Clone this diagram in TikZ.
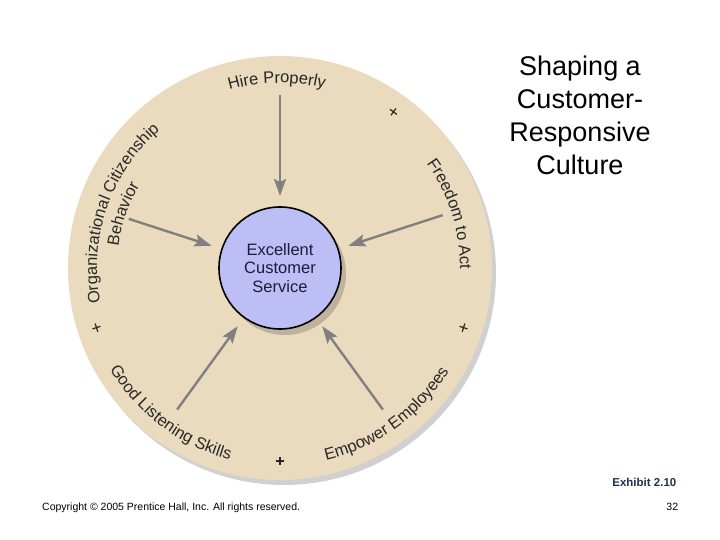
\documentclass[tikz,border=0pt]{standalone}
\usepackage{fontspec}
\setmainfont{Liberation Sans}
\usetikzlibrary{arrows.meta, shapes.misc, decorations.text}
\definecolor{disc}{RGB}{234,219,190}
\definecolor{discshadow}{RGB}{208,208,208}
\definecolor{core}{RGB}{190,190,246}
\definecolor{coreshadow}{RGB}{190,178,158}
\definecolor{arrowgray}{RGB}{128,128,128}
\definecolor{labeltext}{RGB}{40,40,40}
\definecolor{coretext}{RGB}{28,28,56}
\definecolor{exhibit}{RGB}{27,52,84}
\newcommand{\lblfont}{\fontsize{16.5}{16.5}\selectfont\color{labeltext}}

\begin{document}
\begin{tikzpicture}[x=1pt, y=1pt,
			flow/.style={draw=arrowgray, line width=2.4pt, -{Stealth[length=17pt, width=12pt, inset=3pt]}, shorten >=11pt},
			plusmark/.style={draw=black!85, cross out, minimum size=6pt, inner sep=0pt, outer sep=0pt, line width=1.2pt},
			arclabel/.style={decorate, decoration={text along path, text align=center, text={#1}}}]
			\useasboundingbox (0,0) rectangle (720,540);
			% Scheibe mit Schatten
			\coordinate (c) at (280,272);
			\fill[discshadow] (284,267) circle[radius=212];
			\fill[disc] (c) circle[radius=212];
			% Kern mit Schatten
			\fill[coreshadow] (285,266) circle[radius=61];
			\node[circle, draw, line width=1.6pt, fill=core, minimum size=122pt, inner sep=0pt, outer sep=0pt,
				align=center, text=coretext, font=\fontsize{16.5}{18.5}\selectfont] (ecs) at (c) {Excellent\\Customer\\Service};
			% Pfeile zeichnen
			\foreach \a/\r/\n in {90/173/hp, 18/171/fa, 162/159/ocb, 234/175/gls, 306/175/ee} {
				\path (c) ++(\a:\r) coordinate (\n);
				\draw[flow] (\n) -- (ecs);
			}
			% Markierungen
			\foreach \a in {54,-18,198,270}
				\path (c) ++(\a:193) node[plusmark, rotate=\a+45] (pm\a) {};
			% Beschriftung entlang des Kreises
			\path[arclabel={|\lblfont|Hire Properly}] (c) ++(126:185) arc[start angle=126, end angle=56, radius=185];
			\path[arclabel={|\lblfont|Freedom to Act}] (c) ++(60:180) arc[start angle=60, end angle=-25, radius=180];
			\path[arclabel={|\lblfont|Organizational Citizenship}] (c) ++(235:183) arc[start angle=235, end angle=87, radius=183];
			\path[arclabel={|\lblfont|Behavior}] (c) ++(200:163) arc[start angle=200, end angle=122, radius=163];
			\path[arclabel={|\lblfont|Good Listening Skills}] (c) ++(190:198) arc[start angle=190, end angle=276, radius=198];
			\path[arclabel={|\lblfont|Empower Employees}] (c) ++(264:198) arc[start angle=264, end angle=348, radius=198];
			% Titel und Fusszeile
			\node[anchor=north, inner sep=0pt, align=center, font=\fontsize{27}{33}\selectfont] (title) at (580,484)
				{Shaping a\\Customer-\\Responsive\\Culture};
			\node[anchor=base east, inner sep=0pt, text=exhibit, font=\fontsize{11.5}{12}\selectfont\bfseries] (exh) at (676.5,53.3) {Exhibit 2.10};
			\node[anchor=base west, inner sep=0pt, font=\fontsize{10.5}{12}\selectfont] (copy) at (42,29.5) {Copyright © 2005 Prentice Hall, Inc. All rights reserved.};
			\node[anchor=base east, inner sep=0pt, font=\fontsize{10.5}{12}\selectfont] (page) at (678.3,29.3) {32};
		\end{tikzpicture}
\end{document}
